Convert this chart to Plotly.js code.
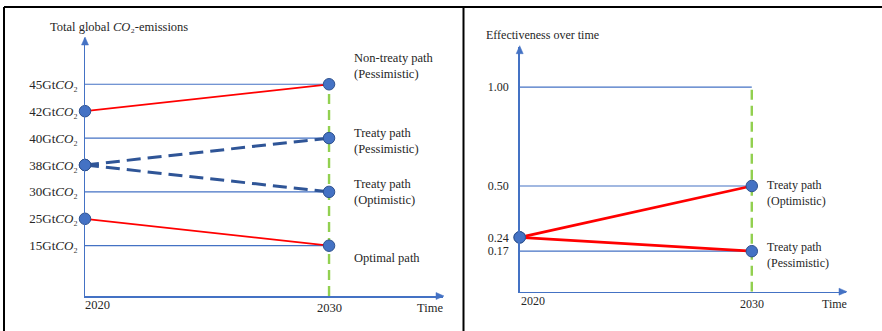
<!DOCTYPE html>
<html><head><meta charset="utf-8">
<script src="https://cdn.plot.ly/plotly-3.0.1.min.js"></script>
<style>html,body{margin:0;padding:0;background:#fff}#chart{width:882px;height:331px}</style>
</head><body><div id="chart"></div>
<script>
// ---- Left panel: total global CO2-emissions (GtCO2), schematic (ordinal) axis ----
const years = [2020, 2030];
const emissionLevels = [15, 25, 30, 38, 40, 42, 45];   // tick labels (ascending)
const nonTreatyPess = [42, 45];
const treatyPess    = [38, 40];
const treatyOpt     = [38, 30];
const optimalPath   = [25, 15];

// ---- Right panel: effectiveness over time ----
const effTicks   = [0.17, 0.24, 0.50, 1.00];
const effCeiling = 1.00;
const effOpt     = [0.24, 0.50];
const effPess    = [0.24, 0.17];

const W = 882, H = 331;
const px = x => x / W, py = y => 1 - y / H;
const cat  = v => v + 'GtCO2';
const rich = v => v + 'Gt<i>CO</i>\u2082';

const BLUE = '#4472C4', NAVY = '#2F5597', RED = '#FF0000', GREEN = '#92D050';
const FONT = 'Liberation Serif, Times New Roman, serif', TXT = '#262626';

const traces = [];
// reference lines from axis to the 2030 values
[nonTreatyPess[1], treatyPess[1], treatyOpt[1], optimalPath[1]].forEach(v => {
  traces.push({x: years, y: [cat(v), cat(v)], xaxis: 'x', yaxis: 'y', mode: 'lines',
    line: {color: BLUE, width: 1.2}, hoverinfo: 'skip', showlegend: false});
});
[effCeiling, effOpt[1], effPess[1]].forEach(v => {
  traces.push({x: years, y: [v, v], xaxis: 'x2', yaxis: 'y2', mode: 'lines',
    line: {color: BLUE, width: 1.2}, hoverinfo: 'skip', showlegend: false});
});
// paths
const leftPaths = [
  {d: nonTreatyPess, line: {color: RED, width: 1.8}},
  {d: treatyPess,    line: {color: NAVY, width: 3, dash: '14px,7px'}},
  {d: treatyOpt,     line: {color: NAVY, width: 3, dash: '14px,7px'}},
  {d: optimalPath,   line: {color: RED, width: 1.8}}
];
leftPaths.forEach(p => traces.push({x: years, y: p.d.map(cat), xaxis: 'x', yaxis: 'y',
  mode: 'lines', line: p.line, showlegend: false, hoverinfo: 'skip'}));
[effOpt, effPess].forEach(d => traces.push({x: years, y: d, xaxis: 'x2', yaxis: 'y2',
  mode: 'lines', line: {color: RED, width: 2.7}, showlegend: false, hoverinfo: 'skip'}));
// markers
const mk = {size: 11.5, color: BLUE, line: {color: '#2F528F', width: 1}};
leftPaths.forEach(p => traces.push({x: years, y: p.d.map(cat), xaxis: 'x', yaxis: 'y',
  mode: 'markers', marker: mk, cliponaxis: false, showlegend: false, hoverinfo: 'skip'}));
[effOpt, effPess].forEach(d => traces.push({x: years, y: d, xaxis: 'x2', yaxis: 'y2',
  mode: 'markers', marker: mk, cliponaxis: false, showlegend: false, hoverinfo: 'skip'}));

const yRange1 = [-1.87, 7.72];
const yRange2 = [-0.035, 1.205];

const axBase = {showgrid: false, zeroline: false, showline: true, linecolor: BLUE, linewidth: 1.5,
  ticks: '', fixedrange: true};

const ann = [];
const txt = (x, y, text, opts) => ann.push(Object.assign({xref: 'paper', yref: 'paper', x, y, text,
  showarrow: false, xanchor: 'left', yanchor: 'middle', align: 'left',
  font: {family: FONT, size: 12.5, color: TXT}}, opts || {}));

// titles
txt(px(48), py(27), 'Total global <i>CO</i>\u2082-emissions', {font: {family: FONT, size: 12.5, color: TXT}});
txt(px(484), py(35), 'Effectiveness over time', {font: {family: FONT, size: 12, color: TXT}});
// path labels
txt(px(352), py(66), 'Non-treaty path<br>(Pessimistic)');
txt(px(352), py(140.5), 'Treaty path<br>(Pessimistic)');
txt(px(352), py(192), 'Treaty path<br>(Optimistic)');
txt(px(352), py(258), 'Optimal path');
txt(px(765), py(193), 'Treaty path<br>(Optimistic)', {font: {family: FONT, size: 12, color: TXT}});
txt(px(765), py(255), 'Treaty path<br>(Pessimistic)', {font: {family: FONT, size: 12, color: TXT}});
// x labels
const xl = (xref, x, y, anchor, shift, size) => ann.push({xref, yref: 'paper', x, y: py(y),
  text: String(x), showarrow: false, xanchor: anchor, yanchor: 'middle', xshift: shift,
  font: {family: FONT, size, color: TXT}});
xl('x', years[0], 305, 'left', -2, 12.5);
xl('x', years[1], 308, 'center', 0, 12.5);
xl('x2', years[0], 301, 'left', -1, 12);
xl('x2', years[1], 304, 'center', 0, 12);
txt(px(430), py(308), 'Time', {xanchor: 'center'});
txt(px(834.5), py(304), 'Time', {xanchor: 'center', font: {family: FONT, size: 12, color: TXT}});

// axis arrow heads (small filled triangles at the axis ends)
const head = (x, y, dir) => {
  let p;
  if (dir === 'right') p = `M${px(x)},${py(y)} L${px(x - 8)},${py(y - 3.5)} L${px(x - 8)},${py(y + 3.5)} Z`;
  else p = `M${px(x)},${py(y)} L${px(x - 3.5)},${py(y + 8)} L${px(x + 3.5)},${py(y + 8)} Z`;
  return {type: 'path', xref: 'paper', yref: 'paper', path: p, fillcolor: BLUE, line: {color: BLUE, width: 0.5}};
};

const shapes = [
  {type: 'line', xref: 'x', yref: 'y', x0: years[1], x1: years[1], y0: yRange1[0], y1: cat(nonTreatyPess[1]),
   line: {color: GREEN, width: 2.4, dash: '10px,6px'}, layer: 'below'},
  {type: 'line', xref: 'x2', yref: 'y2', x0: years[1], x1: years[1], y0: yRange2[0], y1: effCeiling,
   line: {color: GREEN, width: 2.4, dash: '10px,6px'}, layer: 'below'},
  head(444, 296, 'right'), head(85, 37, 'up'), head(847, 291.7, 'right'), head(519.7, 45.7, 'up'),
  // frame
  {type: 'line', xref: 'paper', yref: 'paper', x0: px(4), x1: px(4), y0: py(7), y1: 0, line: {color: '#000', width: 2}},
  {type: 'line', xref: 'paper', yref: 'paper', x0: px(463.5), x1: px(463.5), y0: py(7), y1: 0, line: {color: '#000', width: 2}},
  {type: 'line', xref: 'paper', yref: 'paper', x0: px(4), x1: 1, y0: py(7), y1: py(7), line: {color: '#000', width: 2}}
];

const layout = {
  width: W, height: H, margin: {l: 0, r: 0, t: 0, b: 0},
  paper_bgcolor: '#fff', plot_bgcolor: 'rgba(0,0,0,0)', showlegend: false, hovermode: false,
  font: {family: FONT, color: TXT},
  xaxis: Object.assign({}, axBase, {domain: [px(85), px(443)], range: [2020, 2034.67], anchor: 'y',
    showticklabels: false}),
  yaxis: Object.assign({}, axBase, {domain: [py(296), py(38)], range: yRange1, anchor: 'x',
    type: 'category', categoryorder: 'array', categoryarray: emissionLevels.map(cat),
    tickmode: 'array', tickvals: emissionLevels.map(cat), ticktext: emissionLevels.map(rich),
    ticklabelstandoff: 3, tickfont: {family: FONT, size: 13, color: TXT}}),
  xaxis2: Object.assign({}, axBase, {domain: [px(519.7), px(846)], range: [2020, 2034.06], anchor: 'y2',
    showticklabels: false}),
  yaxis2: Object.assign({}, axBase, {domain: [py(291.7), py(46.7)], range: yRange2, anchor: 'x2',
    tickmode: 'array', tickvals: effTicks, ticktext: effTicks.map(v => v.toFixed(2)),
    ticklabelstandoff: 7, tickfont: {family: FONT, size: 12, color: TXT}}),
  annotations: ann,
  shapes: shapes
};

Plotly.newPlot('chart', traces, layout, {displayModeBar: false, staticPlot: true});
</script>
</body></html>
